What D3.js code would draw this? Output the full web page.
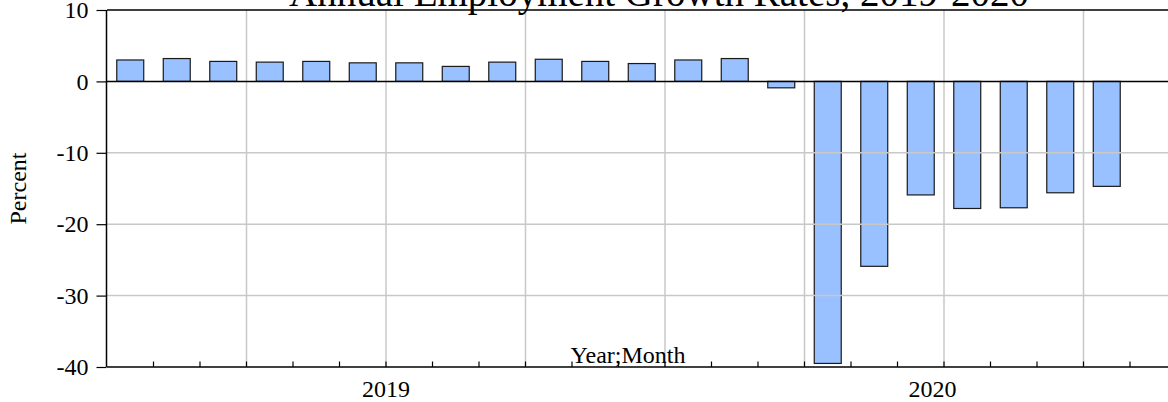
<!DOCTYPE html>
<html>
<head>
<meta charset="utf-8">
<script src="https://cdn.jsdelivr.net/npm/d3@7"></script>
<style>
  html, body { margin: 0; padding: 0; background: #fff; }
  svg { display: block; }
  svg text { font-family: "Liberation Serif", "Times New Roman", Times, serif !important; fill: #000; }
</style>
</head>
<body>
<svg id="chart" width="1168" height="402" font-family="Liberation Serif, Times New Roman, serif"></svg>
<script>
// ---- data ----
const months = ["2019-01","2019-02","2019-03","2019-04","2019-05","2019-06",
                "2019-07","2019-08","2019-09","2019-10","2019-11","2019-12",
                "2020-01","2020-02","2020-03","2020-04","2020-05","2020-06",
                "2020-07","2020-08","2020-09","2020-10"];
const growth = [3.0, 3.2, 2.8, 2.7, 2.8, 2.6, 2.6, 2.1, 2.7, 3.1, 2.8, 2.5,
                3.0, 3.2, -0.9, -39.5, -25.9, -15.9, -17.8, -17.7, -15.6, -14.7];
const years = ["2019", "2020"];
const yTicks = [10, 0, -10, -20, -30, -40];
const title = "Annual Employment Growth Rates, 2019-2020";

// ---- layout ----
const W = 1168, H = 402;
const plotLeft = 107, plotTop = 10, plotBottom = 367, plotRight = 1200;
const monthStep = 46.5;
const serif = '"Liberation Serif", "Times New Roman", Times, serif';
const fs = "24px";

const svg = d3.select("#chart");

const x = d3.scaleBand()
  .domain(months)
  .range([plotLeft, plotLeft + months.length * monthStep])
  .paddingInner(0.42)
  .paddingOuter(0.21);

const y = d3.scaleLinear().domain([-40, 10]).range([plotBottom, plotTop]);

const gap = (x.step() - x.bandwidth()) / 2;
const boundary = i => (i < months.length ? x(months[i]) - gap : x(months[months.length - 1]) + x.bandwidth() + gap);

// bars
svg.append("g").selectAll("rect")
  .data(months.map((m, i) => ({ m, v: growth[i] })))
  .join("rect")
  .attr("x", d => x(d.m))
  .attr("width", x.bandwidth())
  .attr("y", d => y(Math.max(0, d.v)))
  .attr("height", d => Math.abs(y(d.v) - y(0)))
  .attr("fill", "#99c0ff")
  .attr("stroke", "#1a1a1a")
  .attr("stroke-width", 1.2);

// horizontal gridlines
const grid = svg.append("g");
grid.selectAll("line.h")
  .data(yTicks.filter(t => t !== 0 && t !== 10 && t !== -40))
  .join("line")
  .attr("x1", plotLeft).attr("x2", plotRight)
  .attr("y1", d => y(d)).attr("y2", d => y(d))
  .attr("stroke", "#c8c8c8").attr("stroke-width", 1.5);

// vertical gridlines at quarter boundaries
const quarterIdx = d3.range(3, months.length, 3);
grid.selectAll("line.v")
  .data(quarterIdx)
  .join("line")
  .attr("x1", d => boundary(d)).attr("x2", d => boundary(d))
  .attr("y1", plotTop).attr("y2", plotBottom)
  .attr("stroke", "#c8c8c8").attr("stroke-width", 1.5);

// zero line
svg.append("line")
  .attr("x1", plotLeft).attr("x2", plotRight)
  .attr("y1", y(0)).attr("y2", y(0))
  .attr("stroke", "#000").attr("stroke-width", 1.5);

// frame: top, left, bottom
svg.append("line").attr("x1", plotLeft).attr("x2", plotRight)
  .attr("y1", plotTop).attr("y2", plotTop).attr("stroke", "#000").attr("stroke-width", 1.5);
svg.append("line").attr("x1", plotLeft).attr("x2", plotRight)
  .attr("y1", plotBottom).attr("y2", plotBottom).attr("stroke", "#000").attr("stroke-width", 1.5);
svg.append("line").attr("x1", plotLeft - 0.5).attr("x2", plotLeft - 0.5)
  .attr("y1", plotTop).attr("y2", plotBottom).attr("stroke", "#000").attr("stroke-width", 1.5);

// y axis
const yAxis = d3.axisLeft(y).tickValues(yTicks).tickSize(10).tickPadding(8).tickFormat(d3.format("d"));
const gy = svg.append("g").attr("transform", `translate(${plotLeft - 0.5},0)`).call(yAxis);
gy.attr("font-family", serif).attr("font-size", 24);
gy.select(".domain").remove();
gy.selectAll(".tick line").attr("stroke", "#000").attr("stroke-width", 1.2);
gy.selectAll(".tick text")
  .attr("font-family", serif)
  .style("font-size", fs)
  .attr("fill", "#000")
  .text(d => d < 0 ? "-" + Math.abs(d) : d);

// x minor ticks at month boundaries (upward, inside)
svg.append("g").selectAll("line")
  .data(d3.range(1, months.length + 1))
  .join("line")
  .attr("x1", d => boundary(d)).attr("x2", d => boundary(d))
  .attr("y1", plotBottom).attr("y2", plotBottom - 5.5)
  .attr("stroke", "#000").attr("stroke-width", 1.2);

// year labels centered under each year's visible span
svg.append("g").selectAll("text")
  .data(years)
  .join("text")
  .attr("x", yr => {
    const first = months.findIndex(m => m.startsWith(yr));
    const start = Math.max(plotLeft, boundary(first));
    const end = Math.min(plotRight, boundary(first) + 12 * x.step());
    return (start + end) / 2;
  })
  .attr("y", 397)
  .attr("text-anchor", "middle")
  .style("font-size", fs)
  .text(d => d);

// x axis title (inside plot, above axis)
svg.append("text")
  .attr("x", 628).attr("y", 363)
  .attr("text-anchor", "middle")
  .style("font-size", fs)
  .text("Year;Month");

// y axis title
svg.append("text")
  .attr("transform", `translate(26,${(plotTop + plotBottom) / 2}) rotate(-90)`)
  .attr("text-anchor", "middle")
  .style("font-size", fs)
  .text("Percent");

// chart title
svg.append("text")
  .attr("x", 659).attr("y", 6)
  .attr("text-anchor", "middle")
  .style("font-size", "39px")
  .text(title);
</script>
</body>
</html>
